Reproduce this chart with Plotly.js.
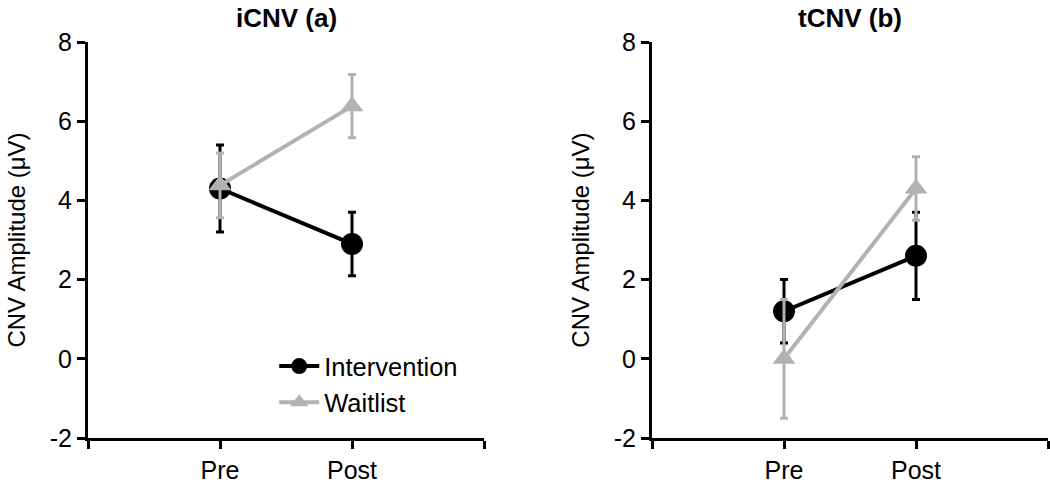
<!DOCTYPE html>
<html>
<head>
<meta charset="utf-8">
<script src="https://cdn.plot.ly/plotly-3.0.1.min.js"></script>
<style>html,body{margin:0;padding:0;background:#fff;}#chart{width:1050px;height:487px;}</style>
</head>
<body>
<div id="chart"></div>
<script>
const categories = ['Pre', 'Post'];
const seriesNames = ['Intervention', 'Waitlist'];
const panelTitles = ['iCNV (a)', 'tCNV (b)'];
const yTickVals = [-2, 0, 2, 4, 6, 8];
const yTickText = ['-2', '0', '2', '4', '6', '8'];

// iCNV (a)
const iInterventionMean = [4.3, 2.9];
const iInterventionErr = [1.1, 0.8];
const iWaitlistMean = [4.38, 6.38];
const iWaitlistErr = [0.82, 0.8];

// tCNV (b)
const tInterventionMean = [1.2, 2.6];
const tInterventionErr = [0.8, 1.1];
const tWaitlistMean = [0.0, 4.3];
const tWaitlistErr = [1.5, 0.8];

const xPos = categories.map((c, i) => i + 1);
const BLACK = '#000000';
const GRAY = '#b2b2b2';
const FONT = 'Arial, "Liberation Sans", sans-serif';

function mk(name, y, err, color, symbol, size, xa, ya, showlegend) {
  return {
    type: 'scatter', mode: 'lines+markers', name: name,
    x: xPos, y: y, xaxis: xa, yaxis: ya, showlegend: showlegend,
    line: {color: color, width: 4},
    marker: {color: color, symbol: symbol, size: size, line: {width: 0}},
    error_y: {type: 'data', array: err, visible: true, color: color, thickness: 3, width: 4}
  };
}

const data = [
  mk(seriesNames[0], iInterventionMean, iInterventionErr, BLACK, 'circle', 22, 'x', 'y', true),
  mk(seriesNames[1], iWaitlistMean, iWaitlistErr, GRAY, 'triangle-up', 20, 'x', 'y', true),
  mk(seriesNames[0], tInterventionMean, tInterventionErr, BLACK, 'circle', 22, 'x2', 'y2', false),
  mk(seriesNames[1], tWaitlistMean, tWaitlistErr, GRAY, 'triangle-up', 20, 'x2', 'y2', false)
];

const xTickVals = [0].concat(xPos, [categories.length + 1]);
const xTickText = [''].concat(categories, ['']);

function xaxis(domain, anchor) {
  return {
    domain: domain, anchor: anchor, range: [0, categories.length + 1],
    tickmode: 'array', tickvals: xTickVals, ticktext: xTickText,
    showgrid: false, zeroline: false, showline: true, linecolor: BLACK, linewidth: 3,
    ticks: 'outside', ticklen: 8, tickwidth: 3, tickcolor: BLACK,
    tickfont: {family: FONT, size: 25, color: BLACK}, fixedrange: true
  };
}
function yaxis(anchor) {
  return {
    anchor: anchor, range: [-2, 8], tickmode: 'array', tickvals: yTickVals, ticktext: yTickText,
    showgrid: false, zeroline: false, showline: true, linecolor: BLACK, linewidth: 3,
    ticks: 'outside', ticklen: 8, tickwidth: 3, tickcolor: BLACK,
    tickfont: {family: FONT, size: 25, color: BLACK},
    title: {text: 'CNV Amplitude (μV)', font: {family: FONT, size: 24, color: BLACK}, standoff: 18},
    fixedrange: true
  };
}

const layout = {
  width: 1050, height: 487,
  margin: {l: 88, r: 2, t: 42, b: 49},
  paper_bgcolor: '#ffffff', plot_bgcolor: '#ffffff',
  font: {family: FONT, color: BLACK},
  xaxis: xaxis([0, 0.4125], 'y'),
  yaxis: yaxis('x'),
  xaxis2: xaxis([0.5875, 1], 'y2'),
  yaxis2: yaxis('x2'),
  showlegend: true,
  legend: {
    x: 0.194, y: 0.24, xanchor: 'left', yanchor: 'top',
    bgcolor: 'rgba(0,0,0,0)', borderwidth: 0,
    font: {family: FONT, size: 25.5, color: BLACK},
    tracegroupgap: 0, itemwidth: 40
  },
  annotations: [
    {text: '<b>' + panelTitles[0] + '</b>', xref: 'paper', yref: 'paper', x: 0.20625, y: 1, yshift: 24, showarrow: false, xanchor: 'center', yanchor: 'middle', font: {family: FONT, size: 26, color: BLACK}},
    {text: '<b>' + panelTitles[1] + '</b>', xref: 'paper', yref: 'paper', x: 0.79375, y: 1, yshift: 24, showarrow: false, xanchor: 'center', yanchor: 'middle', font: {family: FONT, size: 26, color: BLACK}}
  ]
};

Plotly.newPlot('chart', data, layout, {staticPlot: true, displayModeBar: false});
</script>
</body>
</html>
